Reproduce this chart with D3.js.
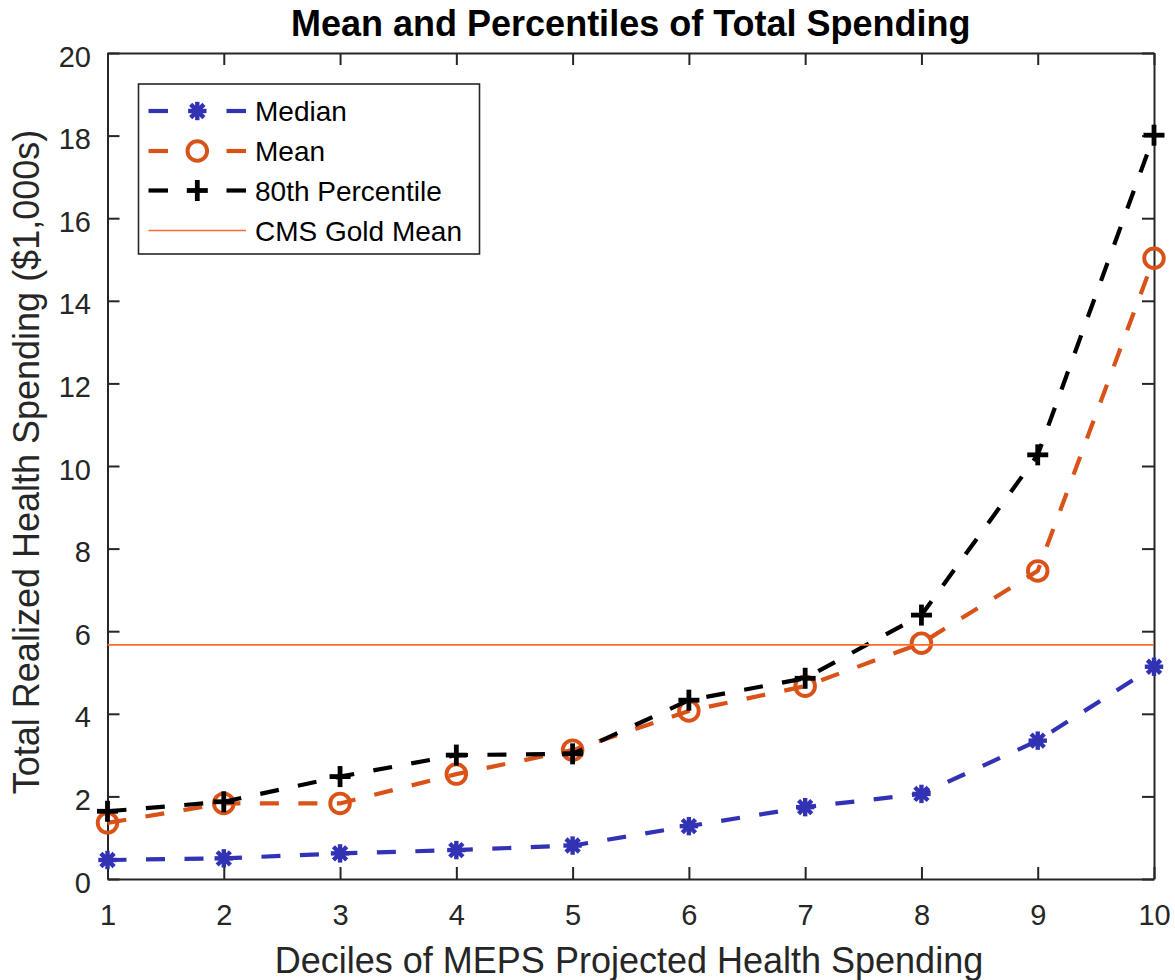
<!DOCTYPE html>
<html>
<head>
<meta charset="utf-8">
<script src="https://cdn.jsdelivr.net/npm/d3@7"></script>
<style>
  html, body { margin: 0; padding: 0; background: #fff; }
  svg { display: block; font-family: "Liberation Sans", Arial, Helvetica, sans-serif; }
</style>
</head>
<body>
<svg id="chart" width="1175" height="980"></svg>
<script>
// Deciles of projected spending (x) and realized spending in $1,000s (y)
const deciles = [1, 2, 3, 4, 5, 6, 7, 8, 9, 10];
const medianVals = [0.46, 0.50, 0.62, 0.70, 0.81, 1.28, 1.74, 2.06, 3.35, 5.14];
const meanVals = [1.36, 1.83, 1.83, 2.54, 3.12, 4.07, 4.67, 5.71, 7.46, 15.03];
const p80Vals = [1.64, 1.87, 2.48, 3.00, 3.03, 4.33, 4.86, 6.39, 10.27, 18.01];
const cmsGoldMean = 5.67;
const yTicks = [0, 2, 4, 6, 8, 10, 12, 14, 16, 18, 20];
const xTicks = deciles;
const seriesNames = ["Median", "Mean", "80th Percentile", "CMS Gold Mean"];

(function () {
const svg = d3.select("#chart");
const plotLeft = 107.5, plotRight = 1154, plotTop = 53, plotBottom = 879;
const x = d3.scaleLinear().domain([1, 10]).range([plotLeft, plotRight]);
const y = d3.scaleLinear().domain([0, 20]).range([plotBottom, plotTop]);

const axisColor = "#262626";
const tickLen = 12;

// Axes: ticks point inward, on all four sides
const gBottom = svg.append("g").attr("transform", `translate(0,${plotBottom})`)
  .call(d3.axisBottom(x).tickValues(xTicks).tickSize(-tickLen).tickSizeOuter(0).tickPadding(25).tickFormat(d3.format("d")));
const gLeft = svg.append("g").attr("transform", `translate(${plotLeft},0)`)
  .call(d3.axisLeft(y).tickValues(yTicks).tickSize(-tickLen).tickSizeOuter(0).tickPadding(16.5).tickFormat(d3.format("d")));
const gTop = svg.append("g").attr("transform", `translate(0,${plotTop})`)
  .call(d3.axisTop(x).tickValues(xTicks).tickSize(-tickLen).tickSizeOuter(0).tickFormat(""));
const gRight = svg.append("g").attr("transform", `translate(${plotRight},0)`)
  .call(d3.axisRight(y).tickValues(yTicks).tickSize(-tickLen).tickSizeOuter(0).tickFormat(""));

[gBottom, gLeft, gTop, gRight].forEach(g => {
  g.select(".domain").attr("stroke", axisColor).attr("stroke-width", 2);
  g.selectAll(".tick line").attr("stroke", axisColor).attr("stroke-width", 2);
  g.selectAll(".tick text").attr("fill", axisColor).attr("font-size", 29)
    .attr("font-family", "Liberation Sans, Arial, sans-serif");
});
gLeft.selectAll(".tick text").attr("dy", "0.45em");

// Series styling
const colors = { median: "#3232B4", mean: "#D95319", p80: "#000000", cms: "#FF6A2E" };
const lineW = 4.2;
const dash = "19 19.5";

const lineGen = d3.line().x(d => x(d[0])).y(d => y(d[1]));
const plotArea = svg.append("g");

function drawMarker(g, kind, cx, cy, color) {
  if (kind === "asterisk") {
    const r = 9.2;
    const a = g.append("g").attr("transform", `translate(${cx},${cy})`)
      .attr("stroke", color).attr("stroke-width", 4.4).attr("stroke-linecap", "butt");
    [[-r, 0, r, 0], [0, -r, 0, r], [-r * 0.72, -r * 0.72, r * 0.72, r * 0.72], [-r * 0.72, r * 0.72, r * 0.72, -r * 0.72]]
      .forEach(s => a.append("line").attr("x1", s[0]).attr("y1", s[1]).attr("x2", s[2]).attr("y2", s[3]));
    a.append("circle").attr("r", 5.5).attr("fill", color).attr("stroke", "none");
  } else if (kind === "circle") {
    g.append("circle").attr("cx", cx).attr("cy", cy).attr("r", 9.8)
      .attr("fill", "none").attr("stroke", color).attr("stroke-width", 3.9);
  } else if (kind === "plus") {
    const r = 10.5;
    const p = g.append("g").attr("transform", `translate(${cx},${cy})`)
      .attr("stroke", color).attr("stroke-width", 4.8);
    p.append("line").attr("x1", -r).attr("x2", r).attr("y1", 0).attr("y2", 0);
    p.append("line").attr("y1", -r).attr("y2", r).attr("x1", 0).attr("x2", 0);
  }
}

const series = [
  { vals: medianVals, color: colors.median, marker: "asterisk" },
  { vals: meanVals, color: colors.mean, marker: "circle" },
  { vals: p80Vals, color: colors.p80, marker: "plus" }
];

series.forEach(s => {
  const pts = deciles.map((d, i) => [d, s.vals[i]]);
  const g = plotArea.append("g");
  g.append("path").attr("d", lineGen(pts)).attr("fill", "none")
    .attr("stroke", s.color).attr("stroke-width", lineW).attr("stroke-dasharray", dash);
  pts.forEach(p => drawMarker(g, s.marker, x(p[0]), y(p[1]), s.color));
});

// Reference level across the full decile range
plotArea.append("line")
  .attr("x1", x(1)).attr("x2", x(10))
  .attr("y1", y(cmsGoldMean)).attr("y2", y(cmsGoldMean))
  .attr("stroke", colors.cms).attr("stroke-width", 1.6);

// Legend
const legend = svg.append("g");
legend.append("rect").attr("x", 138.5).attr("y", 84).attr("width", 341).attr("height", 170)
  .attr("fill", "#fff").attr("stroke", axisColor).attr("stroke-width", 1.6);
const rowY = [111, 151, 190.5, 230.5];
const legendItems = [
  { name: seriesNames[0], color: colors.median, marker: "asterisk" },
  { name: seriesNames[1], color: colors.mean, marker: "circle" },
  { name: seriesNames[2], color: colors.p80, marker: "plus" },
  { name: seriesNames[3], color: colors.cms, marker: null }
];
legendItems.forEach((it, i) => {
  const cy = rowY[i];
  if (it.marker) {
    [[148.5, 168], [226.5, 246]].forEach(seg =>
      legend.append("line").attr("x1", seg[0]).attr("x2", seg[1]).attr("y1", cy).attr("y2", cy)
        .attr("stroke", it.color).attr("stroke-width", lineW));
    drawMarker(legend, it.marker, 197.3, cy, it.color);
  } else {
    legend.append("line").attr("x1", 148.5).attr("x2", 246).attr("y1", cy).attr("y2", cy)
      .attr("stroke", it.color).attr("stroke-width", 1.6);
  }
  legend.append("text").attr("x", 255).attr("y", cy + 10)
    .attr("font-size", 28).attr("fill", "#000").text(it.name);
});

// Title and axis labels
svg.append("text").attr("x", (plotLeft + plotRight) / 2).attr("y", 36)
  .attr("text-anchor", "middle").attr("font-size", 36).attr("font-weight", "bold").attr("fill", "#000")
  .text("Mean and Percentiles of Total Spending");
svg.append("text").attr("x", 629).attr("y", 973)
  .attr("text-anchor", "middle").attr("font-size", 36).attr("fill", axisColor)
  .text("Deciles of MEPS Projected Health Spending");
svg.append("text").attr("transform", "translate(39,462) rotate(-90)")
  .attr("text-anchor", "middle").attr("font-size", 36).attr("fill", axisColor)
  .text("Total Realized Health Spending ($1,000s)");
})();
</script>
</body>
</html>
